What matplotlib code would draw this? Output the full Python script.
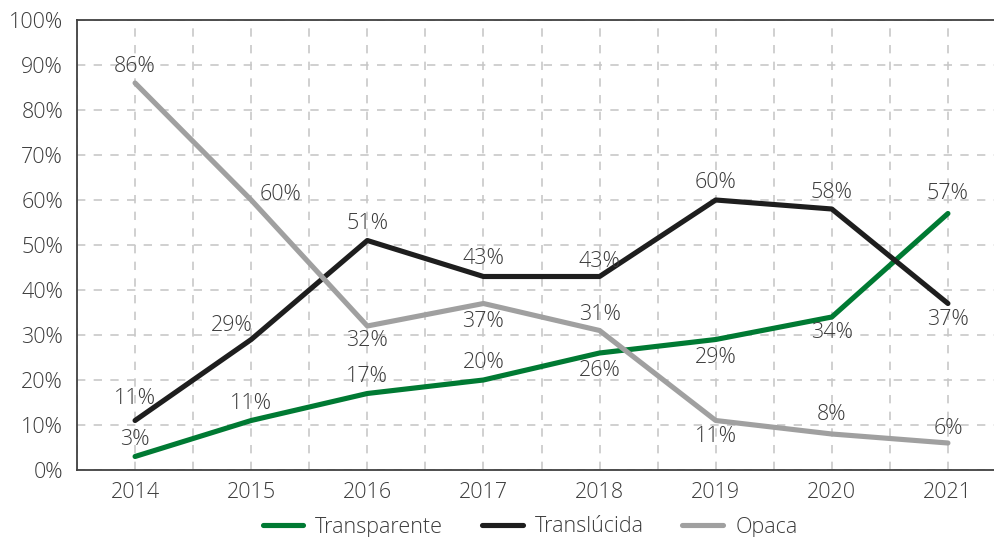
import matplotlib
matplotlib.use("Agg")
import matplotlib.pyplot as plt
from matplotlib.ticker import MultipleLocator, FuncFormatter

years = ["2014", "2015", "2016", "2017", "2018", "2019", "2020", "2021"]
transparente = [3, 11, 17, 20, 26, 29, 34, 57]
translucida = [11, 29, 51, 43, 43, 60, 58, 37]
opaca = [86, 60, 32, 37, 31, 11, 8, 6]

# label offsets in pixels (dx, dy), screen y points up
off_transparente = [(0, 17), (0, 17), (0, 17), (0, 18), (0, -17), (0, -18), (0, -16), (0, 20)]
off_translucida = [(0, 22), (-19, 14), (0, 17), (0, 18), (0, 15), (0, 18), (0, 16), (0, -16)]
off_opaca = [(0, 16), (29, 5), (0, -15), (0, -18), (0, 16), (0, -16), (0, 20), (0, 15)]

TEXT = "#3c3c3c"
FS = 15.5
plt.rcParams["font.family"] = ["Open Sans", "DejaVu Sans"]
plt.rcParams["font.weight"] = "light"

fig = plt.figure(figsize=(9.94, 5.37), dpi=100)
ax = fig.add_axes([77 / 994, 1 - 470 / 537, (1006 - 77) / 994, 450 / 537])

x = range(len(years))
series = [
    ("Transparente", transparente, "#007a33", off_transparente),
    ("Translúcida", translucida, "#1e1e1e", off_translucida),
    ("Opaca", opaca, "#a0a0a0", off_opaca),
]
for name, vals, color, offs in series:
    ax.plot(x, vals, color=color, lw=3.7, solid_capstyle="round", label=name, zorder=3)
    for xi, v, (dx, dy) in zip(x, vals, offs):
        ax.annotate(f"{v}%", (xi, v), xytext=(dx, dy), textcoords="offset pixels",
                    ha="center", va="center", fontsize=FS, color=TEXT, zorder=4)

ax.set_xlim(-0.5, 7.5)
ax.set_ylim(0, 100)
ax.set_xticks(list(x))
ax.set_xticklabels(years)
ax.xaxis.set_minor_locator(MultipleLocator(0.5))
ax.yaxis.set_major_locator(MultipleLocator(10))
ax.yaxis.set_major_formatter(FuncFormatter(lambda v, _: f"{int(v)}%"))
ax.tick_params(axis="both", which="both", length=0, labelsize=FS, labelcolor=TEXT)
ax.tick_params(axis="x", pad=9)
ax.tick_params(axis="y", pad=10)

ax.grid(True, which="both", axis="x", color="#c8c8c8", ls=(0, (5, 5)), lw=1.2)
ax.grid(True, which="major", axis="y", color="#c8c8c8", ls=(0, (5, 5)), lw=1.2)
ax.set_axisbelow(True)

for side in ["left", "top", "bottom"]:
    ax.spines[side].set_color("#404040")
    ax.spines[side].set_linewidth(1.3)
ax.spines["right"].set_visible(False)

leg = fig.legend(loc="center", bbox_to_anchor=(530 / 994, 1 - 527 / 537), ncol=3,
                 frameon=False, fontsize=FS, handlelength=1.9, columnspacing=1.8,
                 handletextpad=0.55)
for t in leg.get_texts():
    t.set_color(TEXT)

fig.savefig("out.png", dpi=100)
